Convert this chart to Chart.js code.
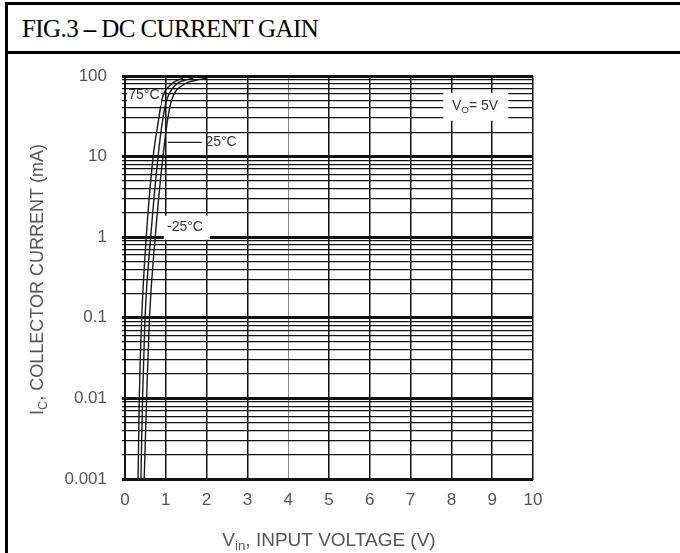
<!DOCTYPE html>
<html>
<head>
<meta charset="utf-8">
<script src="https://cdn.jsdelivr.net/npm/chart.js@4.4.1/dist/chart.umd.min.js"></script>
<style>
  body { margin:0; background:#fff; }
  .page { position:relative; width:680px; height:553px; overflow:hidden; }
  .frame { position:absolute; left:5px; top:2px; width:700px; height:600px; border-top:3px solid #000; border-left:3px solid #000; }
  .title { height:46px; border-bottom:3px solid #000; font-family:"Liberation Serif", "Times New Roman", serif; font-size:25px; letter-spacing:-0.6px; line-height:48px; padding-left:14px; color:#000; }
  #myChart { position:absolute; left:0; top:0; }
</style>
</head>
<body>
<div class="page">
  <div class="frame"><div class="title">FIG.3 <b>–</b> DC CURRENT GAIN</div></div>
  <canvas id="myChart" width="680" height="553"></canvas>
</div>
<script>
// collector current levels (mA)
current = [0.001, 0.01, 0.1, 1, 10, 30, 50, 80, 88, 94]
// input voltage (V) for each temperature
vin75 = [0.32, 0.35, 0.41, 0.52, 0.69, 0.83, 0.90, 1.15, 1.28, 1.42]
vin25 = [0.39, 0.43, 0.49, 0.63, 0.81, 0.93, 1.02, 1.27, 1.45, 1.67]
vinM25 = [0.47, 0.53, 0.60, 0.74, 0.93, 1.05, 1.14, 1.47, 1.72, 2.0]

xTicks = [0, 1, 2, 3, 4, 5, 6, 7, 8, 9, 10]
yDecades = [0.001, 0.01, 0.1, 1, 10, 100]
yTickLabels = ['0.001', '0.01', '0.1', '1', '10', '100']

toPoints = (xs) => xs.map((v, i) => ({x: v, y: current[i]}))

yGrid = []
yDecades.forEach((d, i) => {
    if (i == yDecades.length - 1) { yGrid.push(d); return }
    for (var m = 1; m < 10; m++) yGrid.push(+(d * m).toPrecision(3))
})

isDecade = (v) => Math.abs(Math.log10(v) - Math.round(Math.log10(v))) < 1e-6

// text with a subscript part, e.g. [['V'],['in',1],[', INPUT']]
drawParts = (ctx, parts, x, y, size) => {
    var w = 0
    parts.forEach(p => {
        ctx.font = (p[1] ? size * 0.7 : size) + 'px "Liberation Sans", Arial, sans-serif'
        w += ctx.measureText(p[0]).width
    })
    var cx = x - w / 2
    parts.forEach(p => {
        ctx.font = (p[1] ? size * 0.7 : size) + 'px "Liberation Sans", Arial, sans-serif'
        ctx.fillText(p[0], cx, p[1] ? y + size * 0.3 : y)
        cx += ctx.measureText(p[0]).width
    })
    return w
}

labelsPlugin = {
    id: 'labels',
    afterDatasetsDraw: (chart) => {
        var ctx = chart.ctx, xs = chart.scales.x, ys = chart.scales.y, a = chart.chartArea
        ctx.save()
        ctx.textBaseline = 'middle'
        ctx.textAlign = 'left'

        // white boxes behind labels
        ctx.fillStyle = '#fff'
        ctx.fillRect(xs.getPixelForValue(0.05), ys.getPixelForValue(66), 34, 15)
        ctx.fillRect(xs.getPixelForValue(0.95), ys.getPixelForValue(1.85), 46, 24)
        ctx.fillRect(xs.getPixelForValue(7.8), ys.getPixelForValue(62), 65, 28)

        ctx.fillStyle = '#333'
        ctx.font = '14px "Liberation Sans", Arial, sans-serif'
        ctx.fillText('75°C', xs.getPixelForValue(0.08), ys.getPixelForValue(58))
        ctx.fillText('25°C', xs.getPixelForValue(1.97), ys.getPixelForValue(15))
        ctx.fillText('-25°C', xs.getPixelForValue(1.03), ys.getPixelForValue(1.34))

        ctx.strokeStyle = '#222'
        ctx.lineWidth = 1.3
        ctx.beginPath()
        ctx.moveTo(xs.getPixelForValue(1.05), ys.getPixelForValue(15))
        ctx.lineTo(xs.getPixelForValue(1.88), ys.getPixelForValue(15))
        ctx.stroke()

        drawParts(ctx, [['V'], ['O', 1], ['= 5V']], xs.getPixelForValue(8.58), ys.getPixelForValue(42.5), 14)

        // axis titles
        ctx.fillStyle = '#555'
        drawParts(ctx, [['V'], ['in', 1], [', INPUT VOLTAGE (V)']], (a.left + a.right) / 2, a.bottom + 62, 19)
        ctx.translate(38, (a.top + a.bottom) / 2 + 2)
        ctx.rotate(-Math.PI / 2)
        drawParts(ctx, [['I'], ['C', 1], [', COLLECTOR CURRENT (mA)']], 0, 0, 18)
        ctx.restore()
    }
}

lineStyle = {borderColor: '#1a1a1a', borderWidth: 1.4, pointRadius: 0, showLine: true, cubicInterpolationMode: 'monotone', fill: false}

var ctx = document.getElementById('myChart').getContext('2d')
var myChart = new Chart(ctx, {
    type: 'scatter',
    data: {
        datasets: [
            Object.assign({label: '75°C', data: toPoints(vin75)}, lineStyle),
            Object.assign({label: '25°C', data: toPoints(vin25)}, lineStyle),
            Object.assign({label: '-25°C', data: toPoints(vinM25)}, lineStyle)
        ]
    },
    options: {
        responsive: false,
        animation: false,
        devicePixelRatio: 1,
        layout: {padding: {left: 0, top: 76, right: 147, bottom: 0}},
        plugins: {legend: {display: false}, tooltip: {enabled: false}},
        scales: {
            x: {
                type: 'linear', min: 0, max: 10,
                afterBuildTicks: (s) => { s.ticks = xTicks.map(v => ({value: v})) },
                afterFit: (s) => { s.height = 74 },
                grid: {
                    color: (c) => c.tick && c.tick.value == 4 ? '#8a8a8a' : '#111',
                    lineWidth: (c) => c.tick && c.tick.value == 4 ? 1 : 1.5,
                    drawTicks: false
                },
                border: {color: '#111', width: 2},
                ticks: {color: '#555', padding: 11, font: {family: '"Liberation Sans", Arial', size: 17}}
            },
            y: {
                type: 'logarithmic', min: 0.001, max: 100,
                afterBuildTicks: (s) => { s.ticks = yGrid.map(v => ({value: v})) },
                afterFit: (s) => { s.width = 125 },
                grid: {
                    color: '#111',
                    lineWidth: (c) => c.tick && isDecade(c.tick.value) ? 3 : 1.3,
                    drawTicks: true, tickLength: 3
                },
                border: {color: '#111', width: 2},
                ticks: {
                    color: '#555', padding: 15, autoSkip: false,
                    font: {family: '"Liberation Sans", Arial', size: 17},
                    callback: (v) => {
                        var i = yDecades.findIndex(d => Math.abs(d - v) < d * 1e-6)
                        return i >= 0 ? yTickLabels[i] : ''
                    }
                }
            }
        }
    },
    plugins: [labelsPlugin]
})
</script>
</body>
</html>
